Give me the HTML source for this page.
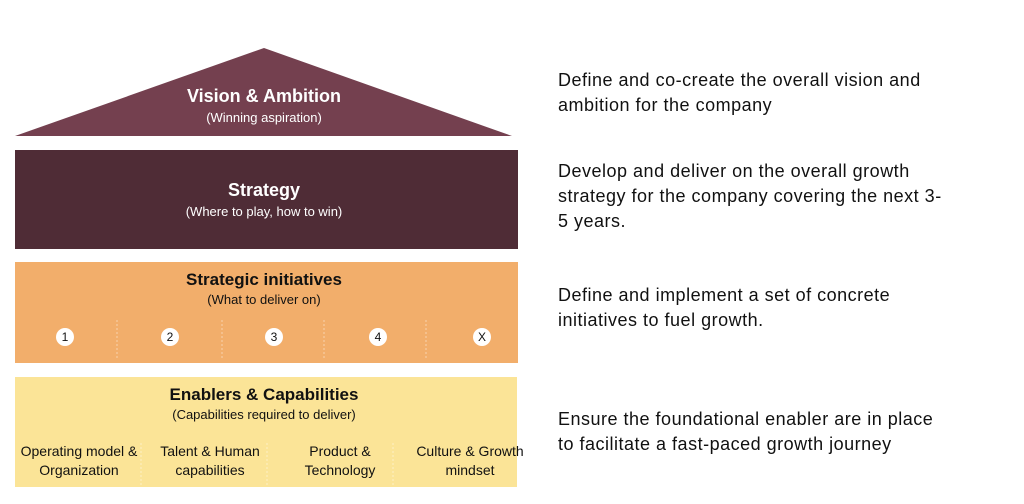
<!DOCTYPE html>
<html><head><style>
body{margin:0;background:#fff;width:1024px;height:504px;overflow:hidden;font-family:"Liberation Sans",sans-serif}
svg{position:absolute;left:0;top:0}
.r{position:absolute;font-size:18px;color:#111;line-height:25px;left:558px;white-space:nowrap;letter-spacing:0.5px}
</style></head><body>
<svg width="1024" height="504" font-family="Liberation Sans, sans-serif" text-anchor="middle">
<polygon points="15,136 264,48 512,136" fill="#74404f"/>
<text x="264" y="102" fill="#fff" font-size="18" font-weight="bold">Vision &amp; Ambition</text>
<text x="264" y="122" fill="#fff" font-size="13">(Winning aspiration)</text>
<rect x="15" y="150" width="503" height="99" fill="#4f2c36"/>
<text x="264" y="196" fill="#fff" font-size="18" font-weight="bold">Strategy</text>
<text x="264" y="216" fill="#fff" font-size="13">(Where to play, how to win)</text>
<rect x="15" y="262" width="503" height="101" fill="#f2ae6b"/>
<text x="264" y="285" fill="#111" font-size="17" font-weight="bold">Strategic initiatives</text>
<text x="264" y="304" fill="#111" font-size="13">(What to deliver on)</text>
<g stroke="#f8d3ae" stroke-dasharray="2,2" stroke-width="1">
<line x1="117" y1="320" x2="117" y2="358"/><line x1="222" y1="320" x2="222" y2="358"/>
<line x1="324" y1="320" x2="324" y2="358"/><line x1="426" y1="320" x2="426" y2="358"/>
</g>
<g fill="#fff"><circle cx="65" cy="337" r="9"/><circle cx="170" cy="337" r="9"/><circle cx="274" cy="337" r="9"/><circle cx="378" cy="337" r="9"/><circle cx="482" cy="337" r="9"/></g>
<g font-size="12" fill="#111"><text x="65" y="341">1</text><text x="170" y="341">2</text><text x="274" y="341">3</text><text x="378" y="341">4</text><text x="482" y="341">X</text></g>
<rect x="15" y="377" width="502" height="110" fill="#fbe497"/>
<text x="264" y="400" fill="#111" font-size="17" font-weight="bold">Enablers &amp; Capabilities</text>
<text x="264" y="419" fill="#111" font-size="13">(Capabilities required to deliver)</text>
<g stroke="#fdf0c6" stroke-dasharray="2,2"><line x1="141" y1="443" x2="141" y2="487"/><line x1="267" y1="443" x2="267" y2="487"/><line x1="393" y1="443" x2="393" y2="487"/></g>
<g font-size="14" fill="#111">
<text x="79" y="456">Operating model &amp;</text><text x="79" y="475">Organization</text>
<text x="210" y="456">Talent &amp; Human</text><text x="210" y="475">capabilities</text>
<text x="340" y="456">Product &amp;</text><text x="340" y="475">Technology</text>
<text x="470" y="456">Culture &amp; Growth</text><text x="470" y="475">mindset</text>
</g>
</svg>
<div class="r" style="top:68px">Define and co-create the overall vision and<br>ambition for the company</div>
<div class="r" style="top:159px">Develop and deliver on the overall growth<br>strategy for the company covering the next 3-<br>5 years.</div>
<div class="r" style="top:283px">Define and implement a set of concrete<br>initiatives to fuel growth.</div>
<div class="r" style="top:407px">Ensure the foundational enabler are in place<br>to facilitate a fast-paced growth journey</div>
</body></html>
